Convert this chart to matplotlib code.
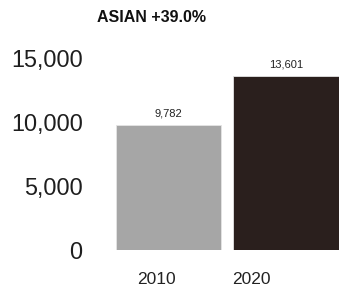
import matplotlib
matplotlib.use("Agg")
import matplotlib.pyplot as plt
import matplotlib.transforms as mtransforms

years = ["2010", "2020"]
counts = [9782, 13601]
value_labels = ["9,782", "13,601"]
y_ticks = [0, 5000, 10000, 15000]
y_tick_labels = ["0", "5,000", "10,000", "15,000"]
title = "ASIAN +39.0%"

plt.rcParams['font.family'] = ['Liberation Sans', 'DejaVu Sans']

fig = plt.figure(figsize=(3.39, 2.87), dpi=100)
ax = fig.add_axes([116 / 339, 1 - 250 / 287, 223 / 339, 205 / 287])

colors = ['#a6a6a6', '#2a1f1d']
pos = list(range(len(years)))
ax.bar(pos, counts, width=0.897, color=colors, edgecolor='#e4e4e4', linewidth=0.6)

for p, c, lab in zip(pos, counts, value_labels):
    ax.annotate(lab, (p, c), xytext=(0, 4.5), textcoords='offset points',
                ha='center', va='bottom', fontsize=8, color='#222222')

ax.set_xlim(-0.449, 1.45)
ax.set_ylim(0, 16000)
ax.set_yticks(y_ticks)
ax.set_yticklabels(y_tick_labels, fontsize=16.8, color='#1e1e1e')
ax.set_xticks(pos)
ax.set_xticklabels(years, fontsize=12.5, color='#222222')
ax.tick_params(axis='y', length=0, pad=24)
ax.tick_params(axis='x', length=0, pad=16)

# x labels sit left of the bar centres in the original
shifts = [-12, -35]
for lab, dx in zip(ax.get_xticklabels(), shifts):
    lab.set_transform(lab.get_transform() + mtransforms.ScaledTranslation(dx / 100, 0, fig.dpi_scale_trans))

for s in ax.spines.values():
    s.set_visible(False)

fig.text(97 / 339, 1 - 18 / 287, title, fontsize=11.5, fontweight='bold',
         ha='left', va='center', color='#111111')

fig.savefig("out.png", dpi=100)
